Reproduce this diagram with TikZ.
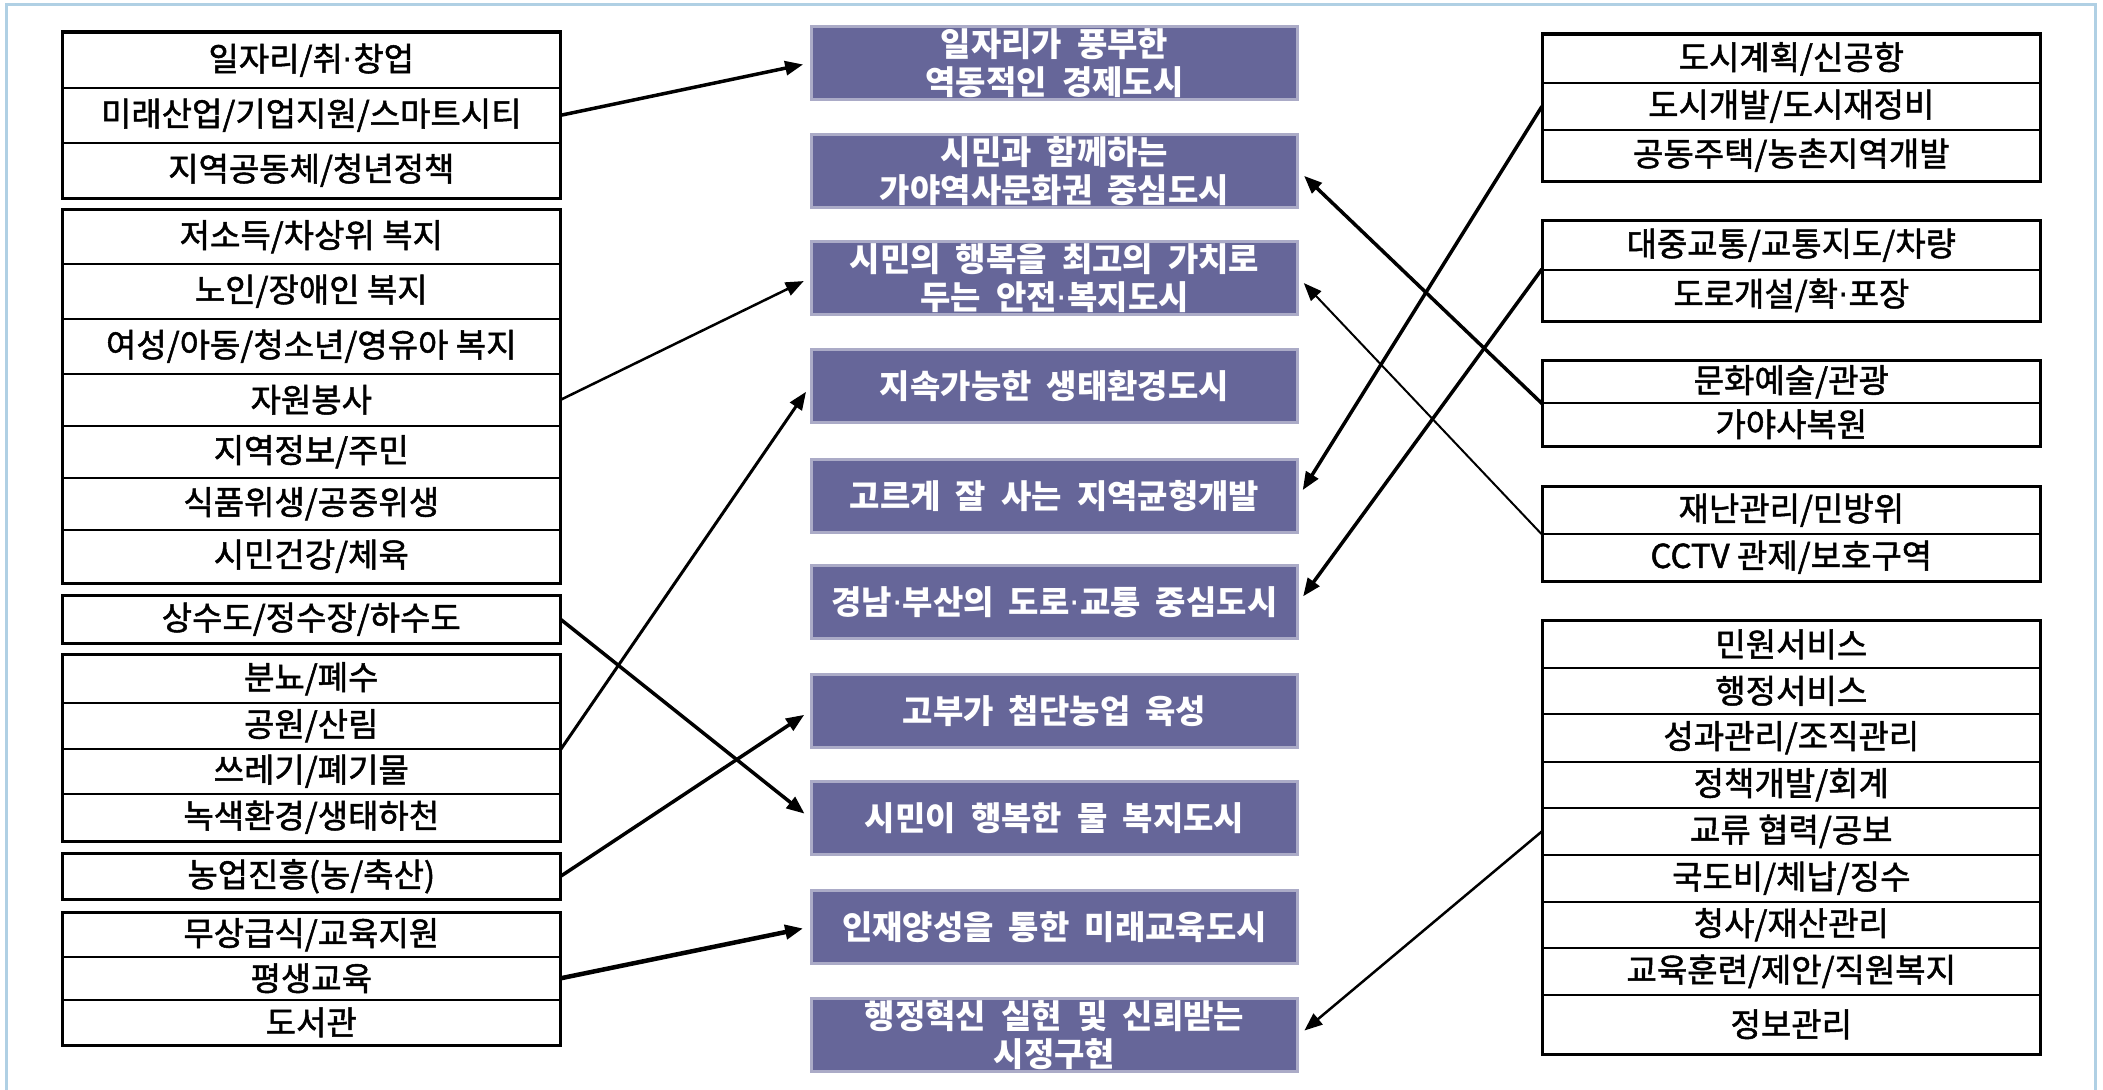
\documentclass[tikz,border=0pt]{standalone}
\usepackage{fontspec}
\newfontfamily\kr{Noto Sans CJK KR}[FakeBold=1.5]
\newfontfamily\krc{Noto Sans CJK KR}[WordSpace=2]
\newfontfamily\dv{DejaVu Sans}
\newcommand{\md}{{\dv\fontseries{m}\selectfont ·}}
\usetikzlibrary{arrows.meta}
\definecolor{boxc}{RGB}{102,102,153}
\definecolor{framec}{RGB}{176,208,228}
\begin{document}
\begin{tikzpicture}[x=1pt,y=-1pt,
  cell/.style={draw, line width=1.6pt, minimum width=497pt, inner sep=0pt, anchor=north west,
    font=\fontsize{33}{38}\selectfont\kr},
  grp/.style={draw, line width=3pt},
  goal/.style={fill=boxc, draw=boxc!55!white, line width=3pt, minimum width=486pt, minimum height=73pt,
    inner sep=0pt, anchor=north west, text=white, align=center,
    font=\fontsize{33}{38}\selectfont\krc\bfseries},
  link/.style={line width=#1, -{Triangle[length=18pt,width=14pt]}, shorten >=7pt},
  link/.default=3pt
]
\useasboundingbox (0,0) rectangle (2103,1089);
\draw[framec, line width=3pt] (6,1095) -- (6,5) -- (2095,5) -- (2095,1095);

% left column
\node[cell, minimum height=55pt] (L1a) at (62,32) {일자리/취\md 창업};
\node[cell, minimum height=55pt] (L1b) at (62,87) {미래산업/기업지원/스마트시티};
\node[cell, minimum height=55pt] (L1c) at (62,142) {지역공동체/청년정책};
\draw[grp] (L1a.north west) rectangle (L1c.south east);

\node[cell, minimum height=54pt] (L2a) at (62,209) {저소득/차상위 복지};
\node[cell, minimum height=55pt] (L2b) at (62,263) {노인/장애인 복지};
\node[cell, minimum height=55pt] (L2c) at (62,318) {여성/아동/청소년/영유아 복지};
\node[cell, minimum height=52pt] (L2d) at (62,373) {자원봉사};
\node[cell, minimum height=52pt] (L2e) at (62,425) {지역정보/주민};
\node[cell, minimum height=52pt] (L2f) at (62,477) {식품위생/공중위생};
\node[cell, minimum height=53pt] (L2g) at (62,529) {시민건강/체육};
\draw[grp] (L2a.north west) rectangle (L2g.south east);

\node[cell, minimum height=47pt] (L3a) at (62,595) {상수도/정수장/하수도};
\draw[grp] (L3a.north west) rectangle (L3a.south east);

\node[cell, minimum height=48pt] (L4a) at (62,654) {분뇨/폐수};
\node[cell, minimum height=46pt] (L4b) at (62,702) {공원/산림};
\node[cell, minimum height=45pt] (L4c) at (62,748) {쓰레기/폐기물};
\node[cell, minimum height=47pt] (L4d) at (62,793) {녹색환경/생태하천};
\draw[grp] (L4a.north west) rectangle (L4d.south east);

\node[cell, minimum height=45pt] (L5a) at (62,853) {농업진흥(농/축산)};
\draw[grp] (L5a.north west) rectangle (L5a.south east);

\node[cell, minimum height=44pt] (L6a) at (62,912) {무상급식/교육지원};
\node[cell, minimum height=43pt] (L6b) at (62,956) {평생교육};
\node[cell, minimum height=45pt] (L6c) at (62,999) {도서관};
\draw[grp] (L6a.north west) rectangle (L6c.south east);

% centre column
\node[goal] (C1) at (810,25) {일자리가 풍부한\\역동적인 경제도시};
\node[goal] (C2) at (810,133) {시민과 함께하는\\가야역사문화권 중심도시};
\node[goal] (C3) at (810,240) {시민의 행복을 최고의 가치로\\두는 안전\md 복지도시};
\node[goal] (C4) at (810,348) {지속가능한 생태환경도시};
\node[goal] (C5) at (810,458) {고르게 잘 사는 지역균형개발};
\node[goal] (C6) at (810,564) {경남\md 부산의 도로\md 교통 중심도시};
\node[goal] (C7) at (810,673) {고부가 첨단농업 육성};
\node[goal] (C8) at (810,780) {시민이 행복한 물 복지도시};
\node[goal] (C9) at (810,889) {인재양성을 통한 미래교육도시};
\node[goal] (C10) at (810,997) {행정혁신 실현 및 신뢰받는\\시정구현};

% right column
\node[cell, minimum height=48pt] (R1a) at (1542,34) {도시계획/신공항};
\node[cell, minimum height=47pt] (R1b) at (1542,82) {도시개발/도시재정비};
\node[cell, minimum height=51pt] (R1c) at (1542,129) {공동주택/농촌지역개발};
\draw[grp] (R1a.north west) rectangle (R1c.south east);

\node[cell, minimum height=49pt] (R2a) at (1542,220) {대중교통/교통지도/차량};
\node[cell, minimum height=51pt] (R2b) at (1542,269) {도로개설/확\md 포장};
\draw[grp] (R2a.north west) rectangle (R2b.south east);

\node[cell, minimum height=42pt] (R3a) at (1542,360) {문화예술/관광};
\node[cell, minimum height=43pt] (R3b) at (1542,402) {가야사복원};
\draw[grp] (R3a.north west) rectangle (R3b.south east);

\node[cell, minimum height=47pt] (R4a) at (1542,486) {재난관리/민방위};
\node[cell, minimum height=47pt] (R4b) at (1542,533) {CCTV 관제/보호구역};
\draw[grp] (R4a.north west) rectangle (R4b.south east);

\node[cell, minimum height=47pt] (R5a) at (1542,620) {민원서비스};
\node[cell, minimum height=46pt] (R5b) at (1542,667) {행정서비스};
\node[cell, minimum height=48pt] (R5c) at (1542,713) {성과관리/조직관리};
\node[cell, minimum height=46pt] (R5d) at (1542,761) {정책개발/회계};
\node[cell, minimum height=47pt] (R5e) at (1542,807) {교류 협력/공보};
\node[cell, minimum height=47pt] (R5f) at (1542,854) {국도비/체납/징수};
\node[cell, minimum height=46pt] (R5g) at (1542,901) {청사/재산관리};
\node[cell, minimum height=47pt] (R5h) at (1542,947) {교육훈련/제안/직원복지};
\node[cell, minimum height=59pt] (R5i) at (1542,994) {정보관리};
\draw[grp] (R5a.north west) rectangle (R5i.south east);

% connectors
\draw[link=3.5pt] (L1b.east) -- (C1.west);
\draw[link=2.5pt] (L2d.east) -- (C3.west);
\draw[link=3pt] (L4b.south east) -- (C4.west);
\draw[link=3.5pt] (L3a.east) -- (C8.west);
\draw[link=3.5pt] (L5a.east) -- (C7.west);
\draw[link=4.5pt] (L6b.east) -- (C9.west);
\draw[link=3.5pt] (R1b.west) -- (C5.east);
\draw[link=3.5pt] (R2b.north west) -- (C6.east);
\draw[link=3.5pt] (R3a.south west) -- (C2.east);
\draw[link=2pt] (R4a.south west) -- (C3.east);
\draw[link=2.5pt] (R5e.west) -- (C10.east);
\end{tikzpicture}
\end{document}
